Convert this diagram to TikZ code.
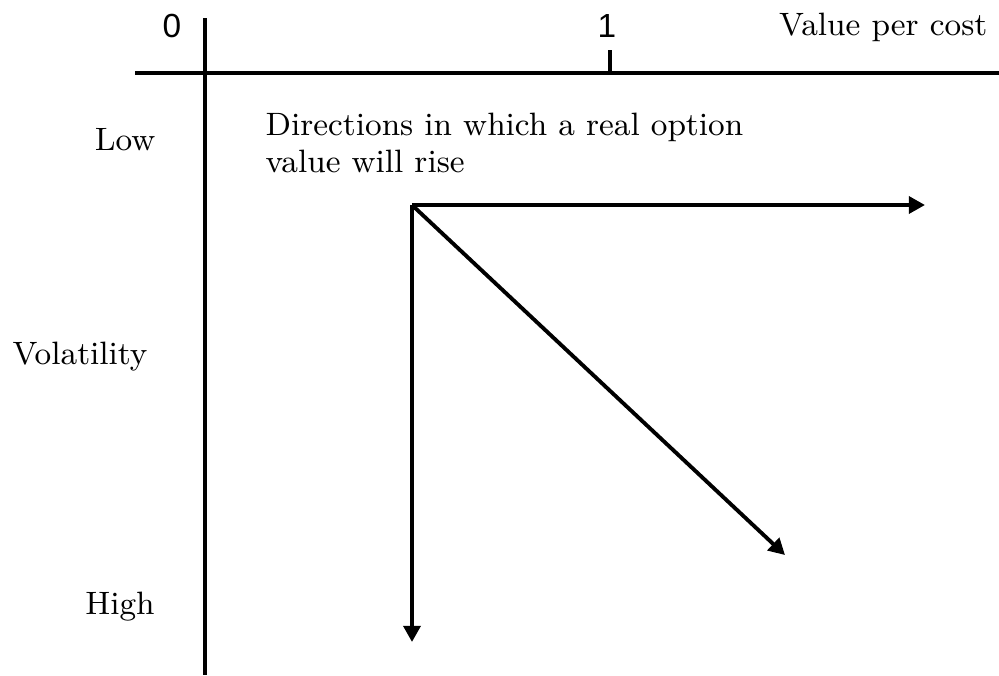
\documentclass[tikz,border=0pt]{standalone}
\usepackage{fontspec}
\newfontfamily\digitfont{Liberation Sans}
\usetikzlibrary{arrows.meta}
\tikzset{
  axis/.style={line width=1.1pt},
  dirarrow/.style={line width=1.1pt,-{Triangle[length=4.6pt,width=4.8pt]}},
  lbl/.style={font=\fontsize{9.2}{10.6}\selectfont,inner sep=0pt},
  num/.style={font=\digitfont\fontsize{9.5}{11}\selectfont,inner sep=0pt}
}
\begin{document}
\begin{tikzpicture}[x=0.01cm,y=-0.01cm]
        \useasboundingbox (0,0) rectangle (999,675);
        % axes
        \coordinate (xl) at (135,73);\coordinate (xr) at (999,73);
        \coordinate (yt) at (205,18);\coordinate (yb) at (205,675);
        \draw [axis] (xl) -- (xr);\draw [axis] (yt) -- (yb);
        \coordinate (tk) at (610,50);\coordinate (tb) at (610,73);
        \draw [axis] (tk) -- (tb);
        % lecter
        \node [num] (zero) at (172,26) {0};
        \node [num] (one) at (607,26) {1};
        \node [lbl,anchor=east] (vpc) at (988,27) {Value per cost};
        \node [lbl] (low) at (125,140) {Low};
        \node [lbl] (vol) at (80,357) {Volatility};
        \node [lbl] (high) at (120,607) {High};
        \node [lbl,anchor=north west,align=left] (dir) at (265,112) {Directions in which a real option\\value will rise};
        % arrows
        \coordinate (o) at (412,205);
        \coordinate (ea) at (925,205);\coordinate (se) at (785,555);\coordinate (so) at (412,642);
        \draw [dirarrow] (o) -- (ea);
        \draw [dirarrow] (o) -- (se);
        \draw [dirarrow] (o) -- (so);
\end{tikzpicture}
\end{document}
